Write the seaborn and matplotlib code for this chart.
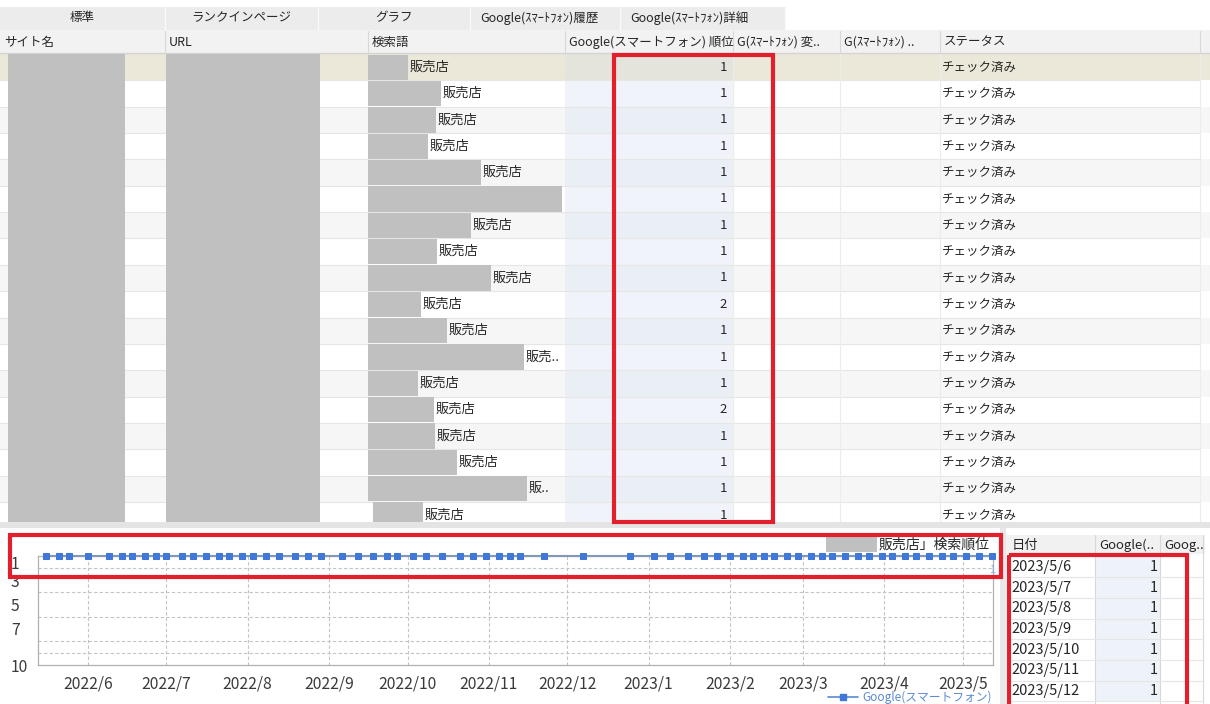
import numpy as np
import pandas as pd
import seaborn as sns
import matplotlib.pyplot as plt
import matplotlib.dates as mdates
from matplotlib.patches import Rectangle
from matplotlib.lines import Line2D
from matplotlib.ticker import FuncFormatter

sns.set_style("white")
plt.rcParams['font.family'] = ['Noto Sans CJK JP', 'DejaVu Sans']

# ---- data
tab_names = ['標準', 'ランクインページ', 'グラフ', 'Google(ｽﾏｰﾄﾌｫﾝ)履歴', 'Google(ｽﾏｰﾄﾌｫﾝ)詳細']
col_names = ['サイト名', 'URL', '検索語', 'Google(スマートフォン) 順位',
             'G(ｽﾏｰﾄﾌｫﾝ) 変..', 'G(ｽﾏｰﾄﾌｫﾝ) ..', 'ステータス']

keywords = ['販売店', '販売店', '販売店', '販売店', '販売店', '',
            '販売店', '販売店', '販売店', '販売店', '販売店', '販売..',
            '販売店', '販売店', '販売店', '販売店', '販..', '販売店']
# width of the grey blur over each search term (px)
keyword_blur = [40, 73, 68, 60, 113, 194, 103, 69, 123, 53, 79, 156,
                50, 66, 67, 89, 159, 50]
ranks = [1, 1, 1, 1, 1, 1, 1, 1, 1, 2, 1, 1, 1, 2, 1, 1, 1, 1]
status = ['チェック済み'] * len(ranks)

chart_title = '販売店」検索順位'
series_name = 'Google(スマートフォン)'
check_dates = [
    '2022-05-16', '2022-05-21', '2022-05-25', '2022-06-01', '2022-06-09',
    '2022-06-14', '2022-06-18', '2022-06-23', '2022-06-27', '2022-07-01',
    '2022-07-07', '2022-07-11', '2022-07-16', '2022-07-21', '2022-07-25',
    '2022-07-30', '2022-08-03', '2022-08-08', '2022-08-13', '2022-08-19',
    '2022-08-24', '2022-08-29', '2022-09-06', '2022-09-12', '2022-09-18',
    '2022-09-23', '2022-09-27', '2022-10-03', '2022-10-08', '2022-10-14',
    '2022-10-21', '2022-10-26', '2022-10-31', '2022-11-05', '2022-11-09',
    '2022-11-13', '2022-11-22', '2022-12-07', '2022-12-25', '2023-01-03',
    '2023-01-09', '2023-01-16', '2023-01-22', '2023-01-27', '2023-02-01',
    '2023-02-06', '2023-02-10', '2023-02-14', '2023-02-18', '2023-02-23',
    '2023-02-27', '2023-03-04', '2023-03-08', '2023-03-12', '2023-03-17',
    '2023-03-22', '2023-03-26', '2023-03-31', '2023-04-04', '2023-04-09',
    '2023-04-13', '2023-04-18', '2023-04-23', '2023-04-27', '2023-05-02',
    '2023-05-07', '2023-05-12']
check_ranks = [1, 1, 1, 1, 1, 1, 1, 1, 1, 1,
               1, 1, 1, 1, 1, 1, 1, 1, 1, 1,
               1, 1, 1, 1, 1, 1, 1, 1, 1, 1,
               1, 1, 1, 1, 1, 1, 1, 1, 1, 1,
               1, 1, 1, 1, 1, 1, 1, 1, 1, 1,
               1, 1, 1, 1, 1, 1, 1, 1, 1, 1,
               1, 1, 1, 1, 1, 1, 1]
y_ticks = [1, 3, 5, 7, 10]

side_cols = ['日付', 'Google(..', 'Goog..']
side_dates = ['2023/5/6', '2023/5/7', '2023/5/8', '2023/5/9',
              '2023/5/10', '2023/5/11', '2023/5/12']
side_ranks = [1, 1, 1, 1, 1, 1, 1]

W, H = 1210, 704
GREY = '#c0c0c0'
RED = '#e0202c'
TXT = '#262626'

fig = plt.figure(figsize=(W / 100, H / 100), dpi=100)
bg = fig.add_axes([0, 0, 1, 1])
bg.set_xlim(0, W)
bg.set_ylim(H, 0)
bg.axis('off')


def box(x, y, w, h, fc, ec='none', lw=0, z=1, ax=bg):
    ax.add_patch(Rectangle((x, y), w, h, facecolor=fc, edgecolor=ec, lw=lw, zorder=z))


def txt(x, y, s, ha='left', size=9, color=TXT, z=5, ax=bg):
    ax.text(x, y, s, ha=ha, va='center', fontsize=size, color=color, zorder=z)


# tab strip
box(0, 0, W, 30, 'white')
box(0, 7, 785, 23, '#ececec')
tab_x = [0, 165, 318, 470, 620, 785]
for i, name in enumerate(tab_names):
    if i < 3:
        txt((tab_x[i] + tab_x[i + 1]) / 2, 18, name, ha='center')
    else:
        txt(tab_x[i] + 10, 18, name)
    bg.plot([tab_x[i + 1]] * 2, [7, 30], color='#fafafa', lw=1, zorder=2)

# column header
box(0, 30, W, 23, '#f2f2f2')
bg.plot([0, W], [53, 53], color='#d4d4d4', lw=1, zorder=2)
col_x = [0, 165, 368, 565, 733, 840, 940, 1200]
for i, name in enumerate(col_names):
    txt(col_x[i] + 4, 42, name)
for x in col_x[1:]:
    bg.plot([x, x], [31, 52], color='#d8d8d8', lw=0.8, zorder=2)

# rows
row_top, row_h = 54, 26.35
for i in range(len(ranks)):
    y0 = row_top + i * row_h
    yc = y0 + row_h / 2
    if i == 0:
        fc, fc2 = '#ebe8d9', '#e4e3dc'
    elif i % 2 == 1:
        fc, fc2 = 'white', '#f0f4fa'
    else:
        fc, fc2 = '#f6f6f6', '#eaeff6'
    box(0, y0, W, row_h, fc)
    box(565, y0, 168, row_h, fc2)
    bg.plot([0, 1200], [y0 + row_h] * 2, color='#e6e6e6', lw=0.8, zorder=2)
    bx = 373 if i == len(ranks) - 1 else 368
    box(bx, y0 + 0.5, keyword_blur[i], row_h - 1, GREY, z=3)
    if keywords[i]:
        txt(bx + keyword_blur[i] + 2, yc, keywords[i], size=9.5)
    txt(727, yc, str(ranks[i]), ha='right', size=9.5)
    txt(942, yc, status[i])
for x in [733, 840, 940, 1200]:
    bg.plot([x, x], [54, 522], color='#ececec', lw=0.8, zorder=2)
box(8, 54, 117, 470, GREY, z=3)
box(166, 54, 154, 470, GREY, z=3)

# lower panel
box(0, 522, W, 6, '#e4e4e4', z=6)
box(0, 528, 1000, H - 528, 'white', z=6)
box(1000, 528, 6, H - 528, '#e8e8e8', z=6)
box(1006, 528, W - 1006, H - 528, 'white', z=6)

# chart title and legend
box(826, 537, 51, 15, GREY, z=7)
txt(879, 545, chart_title, size=10, z=7)
bg.add_line(Line2D([828, 858], [697, 697], color='#5a88d2', lw=1.2, zorder=7))
bg.add_line(Line2D([843], [697], marker='s', ms=4.5, color='#3f78d8', zorder=7))
txt(862, 697, series_name, size=8.5, color='#5b8ad4', z=7)

# side table
box(1006, 535, 199, 19, '#f1f1f1', z=7)
side_x = [1008, 1095, 1160, 1203]
for i, name in enumerate(side_cols):
    txt(side_x[i] + 4, 545, name, size=9.5, z=8)
for x in side_x[1:]:
    bg.plot([x, x], [535, H], color='#d8d8d8', lw=0.8, zorder=8)
s_top, s_h = 556.5, 20.7
for i, (d, r) in enumerate(zip(side_dates, side_ranks)):
    y0 = s_top + i * s_h
    box(1095, y0, 65, s_h, '#eef3fa', z=7)
    bg.plot([1008, 1203], [y0 + s_h] * 2, color='#e6e6e6', lw=0.8, zorder=8)
    txt(1011, y0 + s_h / 2, d, size=10.5, z=8)
    txt(1158, y0 + s_h / 2, str(r), ha='right', size=10.5, z=8)

# ---- the rank chart
df = pd.DataFrame({'date': pd.to_datetime(check_dates), 'rank': check_ranks})
left, right, top, bottom = 38, 993, 556, 665
ax = fig.add_axes([left / W, 1 - bottom / H, (right - left) / W, (bottom - top) / H], zorder=3)
sns.lineplot(data=df, x='date', y='rank', ax=ax, color='#8397b8', lw=1.5,
             marker='s', markersize=4.8, markerfacecolor='#3f78d8',
             markeredgecolor='#3f78d8', clip_on=False, zorder=5)
ax.set_xlim(pd.Timestamp('2022-05-13'), pd.Timestamp('2023-05-12 10:00'))
ax.set_ylim(10, 1)
ax.set_yticks(y_ticks)
ax.set_yticks(range(1, 11), minor=True)
ax.xaxis.set_major_locator(mdates.MonthLocator())
ax.xaxis.set_major_formatter(FuncFormatter(
    lambda v, p: f"{mdates.num2date(v).year}/{mdates.num2date(v).month}"))
ax.grid(True, which='major', axis='x', ls=(0, (3, 2)), color='#c4c4c4', lw=0.8)
ax.grid(True, which='minor', axis='y', ls=(0, (3, 2)), color='#c4c4c4', lw=0.8)
ax.set(xlabel='', ylabel='')
for s in ax.spines.values():
    s.set_color('#b0b0b0')
    s.set_linewidth(0.9)
ax.tick_params(axis='both', which='both', length=0, labelsize=11.3, colors='#3a3a3a')
ax.tick_params(axis='x', pad=7.5)
ax.tick_params(axis='y', pad=19.5)
for lab in ax.get_yticklabels():
    lab.set_horizontalalignment('left')
ax.get_yticklabels()[0].set_verticalalignment('top')
ax.annotate(str(check_ranks[-1]), (df['date'].iloc[-1], check_ranks[-1]),
            xytext=(0, -14), textcoords='offset pixels', ha='center', va='center',
            fontsize=8, color='#8eaadb', annotation_clip=False)

# ---- red highlight frames on top
top_ax = fig.add_axes([0, 0, 1, 1], zorder=10)
top_ax.set_xlim(0, W)
top_ax.set_ylim(H, 0)
top_ax.axis('off')
top_ax.patch.set_alpha(0)
for (x, y, w, h) in [(614, 55, 159, 467), (10, 535, 991, 42), (1009, 555, 178, 160)]:
    top_ax.add_patch(Rectangle((x, y), w, h, fill=False, edgecolor=RED, lw=3))

fig.savefig('out.png', dpi=100)
